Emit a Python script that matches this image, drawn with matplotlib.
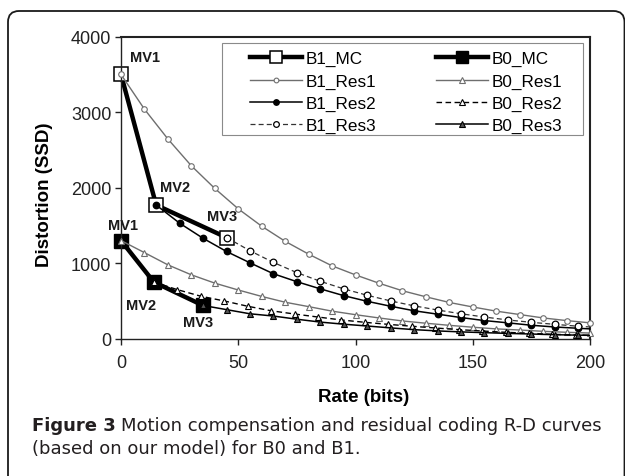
import matplotlib
matplotlib.use("Agg")
import matplotlib.pyplot as plt
from matplotlib.patches import FancyBboxPatch, Rectangle
import numpy as np

# values
b1_mc_x = [0, 15, 45]
b1_mc_y = [3500, 1770, 1340]
b0_mc_x = [0, 14, 35]
b0_mc_y = [1300, 750, 440]

b1_res1_x = list(range(0, 201, 10))
b1_res1_y = [3500, 3040, 2645, 2290, 1990, 1720, 1490, 1290, 1120, 965, 845,
             735, 635, 555, 480, 420, 365, 320, 275, 240, 210]

b1_res2_x = list(range(15, 206, 10))
b1_res2_y = [1770, 1530, 1330, 1155, 1005, 860, 755, 660, 570, 495, 430,
             370, 325, 280, 240, 210, 178, 155, 138, 122]

b1_res3_x = list(range(45, 206, 10))
b1_res3_y = [1340, 1165, 1010, 875, 760, 660, 575, 500, 435, 380, 330,
             287, 248, 217, 190, 165, 145]

b0_res1_x = list(range(0, 201, 10))
b0_res1_y = [1300, 1140, 978, 846, 736, 645, 560, 483, 425, 365, 318,
             275, 235, 205, 177, 152, 130, 115, 98, 85, 75]

b0_res2_x = list(range(14, 205, 10))
b0_res2_y = [750, 650, 563, 500, 430, 370, 327, 287, 248, 217, 190,
             165, 142, 120, 102, 85, 72, 58, 50, 42]

b0_res3_x = list(range(35, 206, 10))
b0_res3_y = [440, 385, 330, 300, 258, 220, 192, 168, 143, 120, 103,
             90, 80, 70, 62, 53, 47, 42]

mv_labels = ["MV1", "MV2", "MV3"]
caption_bold = "Figure 3"
caption_line1 = "Motion compensation and residual coding R-D curves"
caption_line2 = "(based on our model) for B0 and B1."

W, H = 625, 477
fig = plt.figure(figsize=(W / 100, H / 100), dpi=100)
plt.rcParams["font.family"] = ["Liberation Sans", "DejaVu Sans"]

# outer rounded frame of the figure panel
frame = FancyBboxPatch((8, -30), 616.5, 477 - 12 + 30,
                       boxstyle="round,pad=0,rounding_size=11",
                       transform=None, fill=False, edgecolor="#1a1a1a", linewidth=1.3)
fig.add_artist(frame)

ax = fig.add_axes([121 / W, 1 - 339.7 / H, 469 / W, 302 / H])

grey = "#6e6e6e"
h_b1_mc, = ax.plot(b1_mc_x, b1_mc_y, color="black", lw=3.2, marker="s", ms=9.4,
                   mfc="white", mec="black", mew=1.1, label="B1_MC", zorder=2, clip_on=False)
h_b0_mc, = ax.plot(b0_mc_x, b0_mc_y, color="black", lw=3.2, marker="s", ms=9.4,
                   mfc="black", mec="black", label="B0_MC", zorder=2, clip_on=False)
h_b1_r1, = ax.plot(b1_res1_x, b1_res1_y, color=grey, lw=1.0, marker="o", ms=4.0,
                   mfc="white", mec=grey, mew=0.8, label="B1_Res1", zorder=3, clip_on=False)
h_b1_r2, = ax.plot(b1_res2_x, b1_res2_y, color="black", lw=1.1, marker="o", ms=4.6,
                   mfc="black", mec="black", label="B1_Res2", zorder=3)
h_b1_r3, = ax.plot(b1_res3_x, b1_res3_y, color="#333333", lw=0.9, ls=(0, (4, 2.5)), marker="o", ms=4.8,
                   mfc="white", mec="black", mew=0.9, label="B1_Res3", zorder=3)
h_b0_r1, = ax.plot(b0_res1_x, b0_res1_y, color=grey, lw=1.0, marker="^", ms=4.8,
                   mfc="white", mec=grey, mew=0.8, label="B0_Res1", zorder=3, clip_on=False)
h_b0_r2, = ax.plot(b0_res2_x, b0_res2_y, color="black", lw=1.0, ls=(0, (4, 2.5)), marker="^", ms=4.8,
                   mfc="white", mec="black", mew=0.8, label="B0_Res2", zorder=3)
h_b0_r3, = ax.plot(b0_res3_x, b0_res3_y, color="black", lw=1.1, marker="^", ms=4.8,
                   mfc="#555555", mec="black", mew=0.8, label="B0_Res3", zorder=3)

ax.set_xlim(0, 200)
ax.set_ylim(0, 4000)
ax.set_xticks(np.arange(0, 201, 50))
ax.set_yticks(np.arange(0, 4001, 1000))
ax.tick_params(direction="out", length=4, width=1, colors="#222222", labelsize=13)
ax.tick_params(axis="x", pad=7)
ax.tick_params(axis="y", pad=3)
for side in ["left", "bottom"]:
    ax.spines[side].set_linewidth(1.0)
    ax.spines[side].set_color("#222222")
for side in ["top", "right"]:
    ax.spines[side].set_linewidth(1.5)
    ax.spines[side].set_color("#222222")

ax.set_xlabel("Rate (bits)", fontsize=13.5, fontweight="bold", va="top")
ax.xaxis.set_label_coords(0.518, -0.163)
ax.set_ylabel("Distortion (SSD)", fontsize=13.5, fontweight="bold")
ax.yaxis.set_label_coords(-0.145, 0.479)

# MV annotations next to the motion-compensation points (offsets in pixels)
b1_offsets = [(9, 17), (4, 18), (-20, 22)]
b0_offsets = [(-13, 16), (-28, -23), (-20, -17)]
for xs, ys, offs in [(b1_mc_x, b1_mc_y, b1_offsets), (b0_mc_x, b0_mc_y, b0_offsets)]:
    for lab, x, y, (dx, dy) in zip(mv_labels, xs, ys, offs):
        ax.annotate(lab, (x, y), xytext=(dx * 0.72, dy * 0.72), textcoords="offset points",
                    ha="left", va="center", fontsize=10.5, fontweight="bold",
                    color="#1a1a1a", annotation_clip=False)

# legend: frame drawn separately (Excel style wide side padding)
ax.add_patch(Rectangle((0.2147, 0.6745), 0.7703, 0.3045, transform=ax.transAxes,
                       fill=True, facecolor="white", edgecolor="#8a8a8a", lw=0.8, zorder=4))
handles = [h_b1_mc, h_b1_r1, h_b1_r2, h_b1_r3, h_b0_mc, h_b0_r1, h_b0_r2, h_b0_r3]
leg = ax.legend(handles=handles, ncol=2, loc="upper left", bbox_to_anchor=(0.275, 0.952),
                borderaxespad=0, borderpad=0, frameon=False, fontsize=12.3,
                handlelength=3.05, handletextpad=0.2, columnspacing=3.5,
                labelspacing=0.42, numpoints=1, markerscale=0.85)
leg.set_zorder(5)

# caption
cap_color = "#231f20"
cap_font = "DejaVu Sans"
t1 = fig.text(32 / W, 1 - 431 / H, caption_bold, fontsize=13, fontweight="bold",
              family=cap_font, color=cap_color, va="baseline", ha="left")
ax.annotate(caption_line1, xy=(1, 0), xycoords=t1, xytext=(3.5, 0), textcoords="offset points",
            fontsize=13, family=cap_font, color=cap_color, va="bottom", ha="left",
            annotation_clip=False)
fig.text(32 / W, 1 - 454 / H, caption_line2, fontsize=13, family=cap_font,
         color=cap_color, va="baseline", ha="left")

fig.savefig("out.png", dpi=100)
